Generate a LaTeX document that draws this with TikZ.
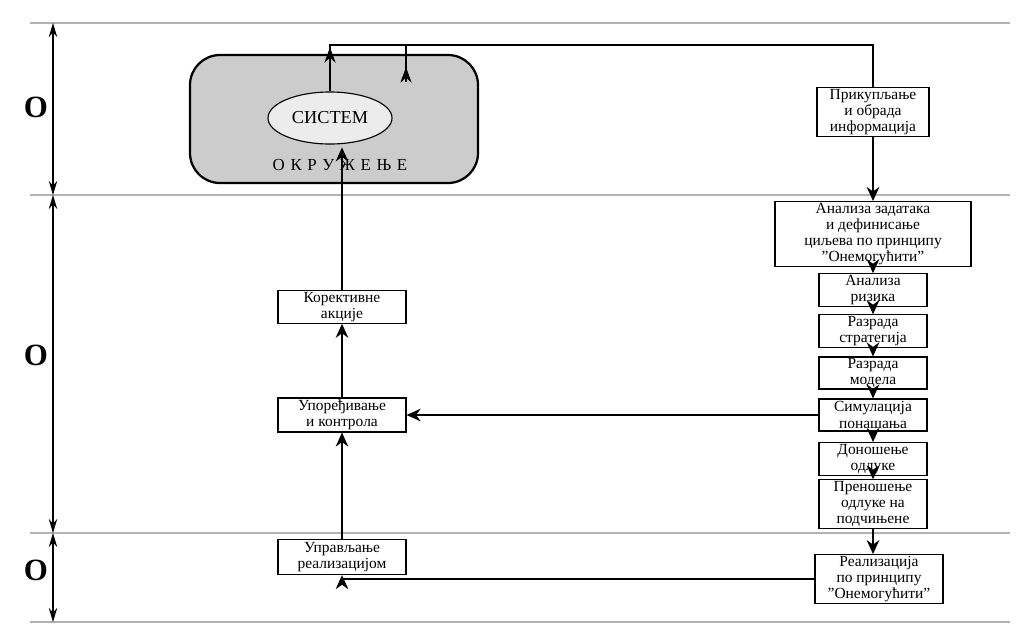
\documentclass[tikz,border=0pt]{standalone}
\usepackage{fontspec}
\setmainfont{Liberation Serif}
\usetikzlibrary{arrows.meta,decorations.markings,shapes.geometric}
\tikzset{
  box/.style={draw, thick, fill=white, align=center, font=\fontsize{11}{11.5}\selectfont, inner sep=1pt},
  flow/.style={thick, -{Stealth[length=10pt,width=9pt]}},
  midup/.style={decoration={markings, mark=at position #1 with {\arrow{Stealth[length=11pt,width=8pt]}}}, postaction={decorate}},
  level/.style={gray!60, thick},
  span/.style={thick, {Stealth[length=10pt,width=6pt]}-{Stealth[length=10pt,width=6pt]}}
}
\begin{document}
\begin{tikzpicture}[x=0.025cm, y=-0.025cm]
		\useasboundingbox (0,0) rectangle (1024,640);
		%levels
		\draw[level] (30,23) -- (1010,23);
		\draw[level] (30,195) -- (1010,195);
		\draw[level] (30,533) -- (1010,533);
		\draw[level] (30,622) -- (1010,622);
		\coordinate (a0) at (53,23);
		\coordinate (a1) at (53,195);
		\coordinate (a2) at (53,533);
		\coordinate (a3) at (53,622);
		\draw[span] (a0) -- (a1);
		\draw[span] (a1) -- (a2);
		\draw[span] (a2) -- (a3);
		\node[font=\fontsize{22}{22}\selectfont\bfseries] (o1) at (36,107) {O};
		\node[font=\fontsize{22}{22}\selectfont\bfseries] (o2) at (36,355) {O};
		\node[font=\fontsize{22}{22}\selectfont\bfseries] (o3) at (36,570) {O};

		%environment
		\draw[ultra thick, fill=gray!40, rounded corners=0.75cm] (190,55) rectangle (478,183);
		\node[draw, thick, fill=gray!15, ellipse, minimum width=3.1cm, minimum height=1.3cm, font=\fontsize{13}{13}\selectfont] (sys) at (330,118) {СИСТЕМ};
		\node[font=\fontsize{12}{12}\selectfont] (env) at (340,165) {О\,\,К\,\,Р\,\,У\,\,Ж\,\,Е\,\,Њ\,\,Е};

		%right column
		\node[box, minimum width=2.8cm, minimum height=1.0cm] (info) at (873,112) {Прикупљање\\и обрада\\информација};
		\node[box, minimum width=4.9cm, minimum height=1.37cm] (task) at (873,234) {Анализа задатака\\и дефинисање\\циљева по принципу\\{\char34}Онемогућити{\char34}};
		\node[box, minimum width=2.7cm, minimum height=0.75cm] (risk) at (873,290) {Анализа\\ризика};
		\node[box, minimum width=2.7cm, minimum height=0.8cm] (strat) at (873,331) {Разрада\\стратегија};
		\node[box, minimum width=2.7cm, minimum height=0.8cm] (model) at (873,373) {Разрада\\модела};
		\node[box, minimum width=2.7cm, minimum height=0.8cm] (sim) at (873,415) {Симулација\\понашања};
		\node[box, minimum width=2.7cm, minimum height=0.82cm] (dec) at (873,459) {Доношење\\одлуке};
		\node[box, minimum width=2.7cm, minimum height=0.92cm] (trans) at (873,504) {Преношење\\одлуке на\\подчињене};
		\node[box, minimum width=3.2cm, minimum height=0.95cm] (real) at (879,579) {Реализација\\по принципу\\{\char34}Онемогућити{\char34}};

		%left column
		\node[box, minimum width=3.2cm, minimum height=0.75cm] (corr) at (342,307) {Корективне\\акције};
		\node[box, minimum width=3.2cm, minimum height=0.85cm] (comp) at (342,415) {Упоређивање\\и контрола};
		\node[box, minimum width=3.2cm, minimum height=0.88cm] (mgmt) at (342,557) {Управљање\\реализацијом};

		%connections
		\coordinate (tl) at (330,45);
		\coordinate (br) at (406,45);
		\coordinate (bb) at (406,82);
		\draw[thick, midup=0.07] (sys.north) -- (tl) -| (info.north);
		\draw[thick, midup=0.4] (bb) -- (br);
		\draw[flow] (info) -- (task);
		\draw[flow] (task) -- (risk);
		\draw[flow] (risk) -- (strat);
		\draw[flow] (strat) -- (model);
		\draw[flow] (model) -- (sim);
		\draw[flow] (sim) -- (dec);
		\draw[flow] (dec) -- (trans);
		\draw[flow] (trans.south) -- (trans.south |- real.north);
		\draw[flow] (sim) -- (comp);
		\draw[flow] (comp) -- (corr);
		\draw[flow] (corr.north) -- ([yshift=-2pt]corr.north |- sys.south);
		\draw[flow] (mgmt) -- (comp);
		\draw[flow] (real.west) -| (mgmt.south);
\end{tikzpicture}
\end{document}
